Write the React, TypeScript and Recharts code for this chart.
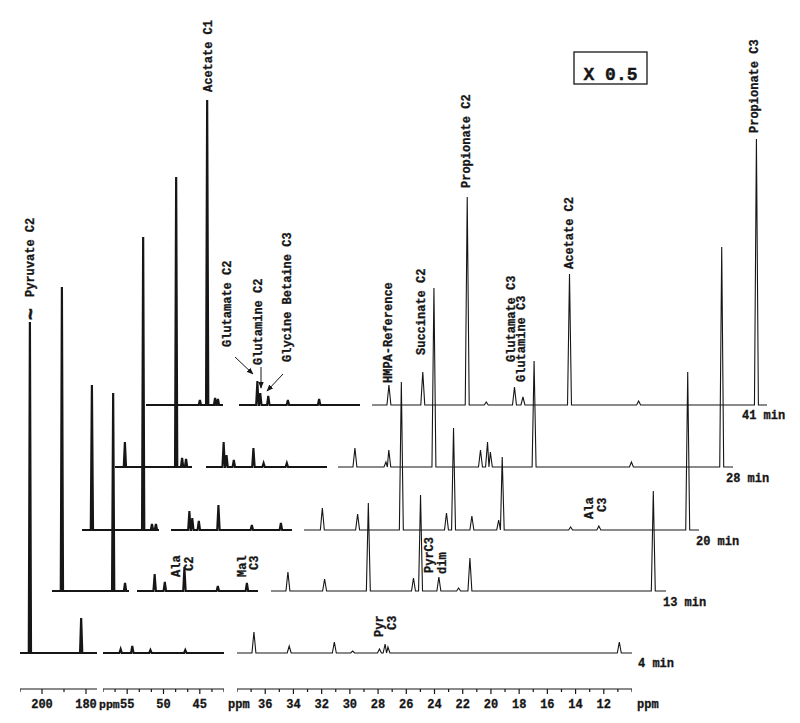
import React from 'react';
import { LineChart, Line, XAxis, YAxis } from 'recharts';

// --- Data ---

const traceTimes = ['4 min', '13 min', '20 min', '28 min', '41 min'];

// carbonyl window 210–175 ppm, peaks as [ppm, intensity], one list per time point
const carbonylPeaks: number[][][] = [
    [[205.5, 331], [182.2, 35]],
    [[205.5, 304], [182.2, 198], [176.8, 8]],
    [[205.5, 145], [182.2, 293], [178.2, 6], [176.4, 6]],
    [[205.5, 25], [182.2, 290], [179.5, 9], [177.7, 8]],
    [[185.5, 5], [182.2, 305], [178.6, 7], [177.3, 6]],
];

// alpha-carbon window 58–42 ppm
const alphaPeaks: number[][][] = [
    [[55.9, 4], [54.3, 7], [51.8, 3], [47.0, 3]],
    [[55.9, 17], [54.5, 9], [51.8, 24], [47.2, 5], [43.2, 8]],
    [[55.8, 19], [55.4, 12], [54.5, 9], [51.8, 25], [47.2, 5], [43.2, 7]],
    [[55.9, 25], [55.5, 12], [54.5, 7], [51.8, 19], [50.4, 4], [47.2, 4]],
    [[55.8, 24], [55.4, 12], [54.3, 9], [51.6, 5], [47.3, 6]],
];

// aliphatic window 38–10 ppm
const aliphaticPeaks: number[][][] = [
    [[36.8, 21], [34.3, 7], [31.1, 11], [29.8, 2], [27.9, 4], [27.5, 9], [27.3, 6], [10.9, 11]],
    [[36.8, 19], [34.2, 12], [31.1, 88], [27.9, 13], [27.4, 96], [26.1, 14], [24.7, 3], [23.9, 33], [10.9, 100]],
    [[36.7, 22], [34.2, 16], [31.1, 148], [27.9, 17], [27.4, 102], [26.1, 14], [24.2, 10], [23.95, 73], [19.1, 3], [17.1, 4], [10.8, 158]],
    [[36.8, 19], [34.6, 5], [34.4, 17], [31.2, 179], [27.9, 17], [27.4, 25], [27.2, 15], [24.1, 106], [17.2, 5], [10.8, 220]],
    [[36.8, 20], [34.4, 33], [31.25, 208], [29.9, 3], [27.9, 18], [27.3, 8], [24.0, 131], [19.1, 4], [10.75, 266]],
];

const carbonylTicks = [210, 200, 190, 180];
const carbonylTickLabels = [200, 180];
const alphaTicks = [58.33, 56.67, 55, 53.33, 51.67, 50, 48.33, 46.67, 45, 43.33, 41.67];
const alphaTickLabels = [55, 50, 45];
const aliphaticTicks = [38, 37, 36, 35, 34, 33, 32, 31, 30, 29, 28, 27, 26, 25, 24, 23, 22, 21, 20, 19, 18, 17, 16, 15, 14, 13, 12, 11, 10];
const aliphaticTickLabels = [36, 34, 32, 30, 28, 26, 24, 22, 20, 18, 16, 14, 12];

// --- Layout ---

const FONT = "'Liberation Mono', 'Courier New', monospace";
const INK = '#161616';
const BASELINES = [653, 591, 529.5, 467, 405];
const PLOT_H = 400;
const Y_MIN = -36; // the ppm axis sits 36px under the 4 min trace
const Y_MAX = PLOT_H + Y_MIN;
const AXIS_H = 30;

const segments = [
    { key: 'carbonyl', peaks: carbonylPeaks, domain: [175, 210], left: 20, width: 77, shift: [0, 32, 62, 95, 126], halfWidth: 0.5, stroke: 2.2, ticks: carbonylTicks, tickLabels: carbonylTickLabels },
    { key: 'alpha', peaks: alphaPeaks, domain: [41.67, 58.33], left: 102.5, width: 121, shift: [0, 34, 68, 103, 136], halfWidth: 0.17, stroke: 2.1, ticks: alphaTicks, tickLabels: alphaTickLabels },
    { key: 'aliphatic', peaks: aliphaticPeaks, domain: [10, 38], left: 237, width: 395, shift: [0, 34, 67, 101, 135], halfWidth: 0.14, stroke: 1.1, ticks: aliphaticTicks, tickLabels: aliphaticTickLabels },
];

// turn a peak list into a stick-like trace (baseline -> apex -> baseline)
const buildTrace = (peaks: number[][], domain: number[], w: number) => {
    const sorted = [...peaks].sort((a, b) => b[0] - a[0]);
    const pts: { ppm: number; v: number }[] = [{ ppm: domain[1], v: 0 }];
    sorted.forEach(([p, h], k) => {
        const prev = sorted[k - 1];
        const next = sorted[k + 1];
        const left = prev && prev[0] - p < 2 * w ? (prev[0] + p) / 2 : p + w;
        const right = next && p - next[0] < 2 * w ? (p + next[0]) / 2 : p - w;
        if (pts[pts.length - 1].ppm !== left) pts.push({ ppm: left, v: 0 });
        pts.push({ ppm: p, v: h });
        pts.push({ ppm: right, v: 0 });
    });
    pts.push({ ppm: domain[0], v: 0 });
    return pts;
};

const AxisTick = ({ x, y, payload, labels }: any) => {
    const major = labels.includes(payload.value);
    return (
        <g>
            <line x1={x} x2={x} y1={y} y2={y + (major ? 5 : 3)} stroke={INK} strokeWidth={1.2} />
            {major && (
                <text x={x} y={y + 19} textAnchor="middle" fontSize={12} fontWeight="bold" fontFamily={FONT} fill={INK} stroke={INK} strokeWidth={0.3}>
                    {payload.value}
                </text>
            )}
        </g>
    );
};

// vertical peak labels: x = glyph centre, y = where the text starts (bottom)
const peakNotes = [
    { text: 'Pyruvate C2', x: 31, y: 297 },
    { text: 'Acetate C1', x: 209, y: 92 },
    { text: 'Glutamate C2', x: 228, y: 347 },
    { text: 'Glutamine C2', x: 259, y: 365 },
    { text: 'Glycine Betaine C3', x: 288, y: 362 },
    { text: 'HMPA-Reference', x: 389, y: 383 },
    { text: 'Succinate C2', x: 422, y: 355 },
    { text: 'Propionate C2', x: 467, y: 188 },
    { text: 'Glutamate C3', x: 512, y: 362 },
    { text: 'Glutamine C3', x: 522, y: 382 },
    { text: 'Acetate C2', x: 570, y: 269 },
    { text: 'Propionate C3', x: 755, y: 133 },
    { text: 'Ala', x: 177, y: 577 },
    { text: 'C2', x: 190, y: 571 },
    { text: 'Mal', x: 243, y: 577 },
    { text: 'C3', x: 255, y: 570 },
    { text: 'Pyr', x: 380, y: 637 },
    { text: 'C3', x: 393, y: 630 },
    { text: 'PyrC3', x: 430, y: 573 },
    { text: 'dim', x: 443, y: 574 },
    { text: 'Ala', x: 590, y: 519 },
    { text: 'C3', x: 603, y: 512 },
];

const timeNotes = [
    { x: 638, y: 667 },
    { x: 663, y: 606 },
    { x: 696, y: 545 },
    { x: 726, y: 482 },
    { x: 742, y: 419 },
];

const arrows = [
    { x1: 235, y1: 357, x2: 253, y2: 374 },
    { x1: 261, y1: 367, x2: 261, y2: 388 },
    { x1: 283, y1: 374, x2: 267, y2: 391 },
];

const SpectrumPanel = ({ seg, i }: { seg: typeof segments[number]; i: number }) => {
    const data = buildTrace(seg.peaks[i], seg.domain, seg.halfWidth);
    const withAxis = i === 0;
    return (
        <div style={{ position: 'absolute', left: seg.left + seg.shift[i], top: BASELINES[i] - Y_MAX }}>
            <LineChart width={seg.width} height={PLOT_H + (withAxis ? AXIS_H : 0)} data={data} margin={{ top: 0, right: 0, bottom: 0, left: 0 }}>
                <XAxis
                    type="number"
                    dataKey="ppm"
                    domain={seg.domain}
                    reversed
                    hide={!withAxis}
                    height={AXIS_H}
                    ticks={seg.ticks}
                    interval={0}
                    tickSize={0}
                    tickMargin={0}
                    tickLine={false}
                    axisLine={{ stroke: INK, strokeWidth: 1.2 }}
                    tick={(props: any) => <AxisTick {...props} labels={seg.tickLabels} />}
                />
                <YAxis type="number" hide domain={[Y_MIN, Y_MAX]} />
                <Line
                    type="linear"
                    dataKey="v"
                    stroke={INK}
                    strokeWidth={seg.stroke}
                    dot={false}
                    isAnimationActive={false}
                />
            </LineChart>
        </div>
    );
};

export default function App() {
    return (
        <div style={{ position: 'absolute', left: 0, top: 0, width: 800, height: 723, background: '#fff', overflow: 'hidden', fontFamily: FONT }}>
            {[4, 3, 2, 1, 0].map(i =>
                segments.map(seg => <SpectrumPanel key={`${seg.key}-${i}`} seg={seg} i={i} />)
            )}
            <svg width={800} height={723} style={{ position: 'absolute', left: 0, top: 0, pointerEvents: 'none' }}>
                <defs>
                    <marker id="arrowHead" viewBox="0 0 10 10" refX="9" refY="5" markerWidth="7" markerHeight="7" orient="auto">
                        <path d="M0,1 L10,5 L0,9 z" fill={INK} />
                    </marker>
                </defs>
                <g fontFamily={FONT} fontWeight="bold" fontSize={12} fill={INK} stroke={INK} strokeWidth={0.3}>
                    {peakNotes.map((n, k) => (
                        <text key={k} x={n.x} y={n.y} transform={`rotate(-90 ${n.x} ${n.y})`} dominantBaseline="central">
                            {n.text}
                        </text>
                    ))}
                    {timeNotes.map((n, k) => (
                        <text key={`t${k}`} x={n.x} y={n.y}>{traceTimes[k]}</text>
                    ))}
                    <text x={99} y={708} fontSize={11.5}>ppm</text>
                    <text x={228} y={708}>ppm</text>
                    <text x={637} y={708}>ppm</text>
                </g>
                <text x={31} y={314} transform="rotate(-90 31 314)" dominantBaseline="central" textAnchor="middle" fontFamily={FONT} fontWeight="bold" fontSize={20} fill={INK} stroke={INK} strokeWidth={0.6}>~</text>
                {arrows.map((a, k) => (
                    <line key={`a${k}`} x1={a.x1} y1={a.y1} x2={a.x2} y2={a.y2} stroke={INK} strokeWidth={1} markerEnd="url(#arrowHead)" />
                ))}
                <rect x={574} y={52} width={73} height={32} fill="none" stroke={INK} strokeWidth={1.3} />
                <text x={610.5} y={80} textAnchor="middle" fontFamily={FONT} fontWeight="bold" fontSize={18} fill={INK} stroke={INK} strokeWidth={0.4}>X 0.5</text>
            </svg>
        </div>
    );
}
